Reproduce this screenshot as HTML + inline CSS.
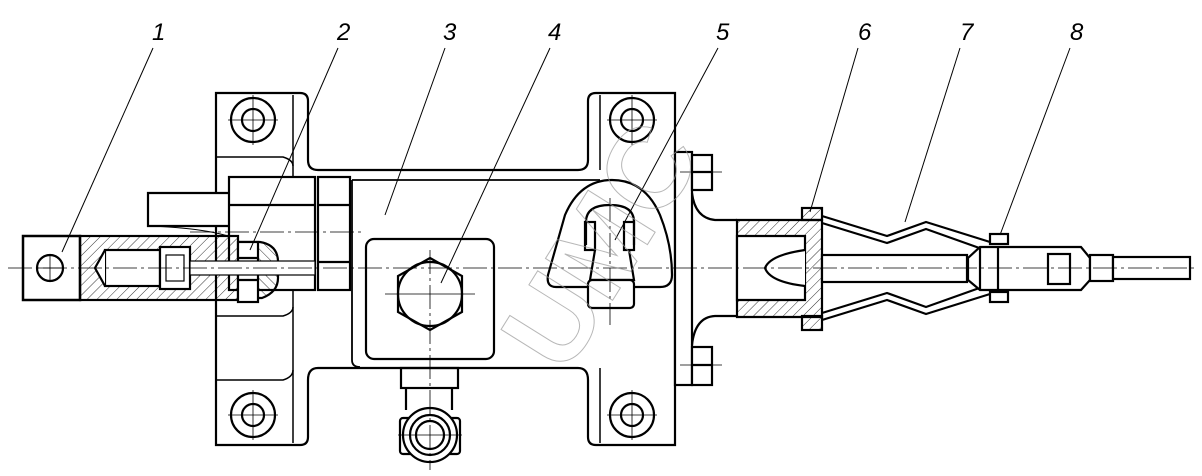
<!DOCTYPE html>
<html><head><style>body{margin:0;background:#fff}svg{display:block}</style></head><body>
<svg width="1202" height="476" viewBox="0 0 1202 476" xmlns="http://www.w3.org/2000/svg">
<defs>
<pattern id="h" width="7" height="7" patternUnits="userSpaceOnUse" patternTransform="rotate(45)"><line x1="0" y1="0" x2="0" y2="7" stroke="#000" stroke-width="0.8"/></pattern>
<pattern id="h2" width="7" height="7" patternUnits="userSpaceOnUse" patternTransform="rotate(-45)"><line x1="0" y1="0" x2="0" y2="7" stroke="#000" stroke-width="0.8"/></pattern>
</defs>
<g font-family="Liberation Sans, sans-serif" font-style="italic" font-size="24" fill="#000">
<text x="152" y="40">1</text><text x="337" y="40">2</text><text x="443" y="40">3</text><text x="548" y="40">4</text>
<text x="716" y="40">5</text><text x="858" y="40">6</text><text x="960" y="40">7</text><text x="1070" y="40">8</text>
</g>
<g stroke="#000" stroke-width="2.2" fill="none">
<path d="M216 93 H300 Q308 93 308 101 V160 Q308 170 318 170 H578 Q588 170 588 160 V101 Q588 93 596 93 H675 V445 H596 Q588 445 588 437 V380 Q588 368 578 368 H318 Q308 368 308 380 V437 Q308 445 300 445 H216 Z" fill="#fff"/>
<line x1="293" y1="95" x2="293" y2="443" stroke-width="1.5"/>
<line x1="600" y1="95" x2="600" y2="170" stroke-width="1.5"/>
<line x1="600" y1="368" x2="600" y2="443" stroke-width="1.5"/>
<path d="M216 157 H283 Q293 160 293 166" stroke-width="1.5"/>
<path d="M216 316 H283 Q293 313 293 307" stroke-width="1.5"/>
<path d="M216 380 H283 Q293 377 293 370" stroke-width="1.5"/>
<path d="M352 180 H600 M352 180 V360 Q352 367 360 367" stroke-width="1.8"/>
<circle cx="253" cy="120" r="22"/><circle cx="253" cy="120" r="11"/>
<circle cx="253" cy="415" r="22"/><circle cx="253" cy="415" r="11"/>
<circle cx="632" cy="120" r="22"/><circle cx="632" cy="120" r="11"/>
<circle cx="632" cy="415" r="22"/><circle cx="632" cy="415" r="11"/>
<path d="M229 193 H148 V226 H229" fill="#fff"/>
<path d="M148 226 Q210 228 240 240" stroke-width="1"/>
<rect x="229" y="177" width="86" height="113" fill="#fff"/>
<line x1="229" y1="205" x2="315" y2="205"/><line x1="229" y1="262" x2="315" y2="262"/>
<rect x="318" y="177" width="32" height="113" fill="#fff"/>
<line x1="318" y1="205" x2="350" y2="205"/><line x1="318" y1="262" x2="350" y2="262"/>
<rect x="23" y="236" width="57" height="64" fill="#fff" stroke-width="2.5"/>
<circle cx="50" cy="268" r="13"/>
<rect x="80" y="236" width="158" height="64" fill="url(#h)"/>
<path d="M238 242 H260 Q278 245 278 262 V278 Q278 292 262 298 H238" fill="url(#h2)"/>
<rect x="105" y="250" width="55" height="36" fill="#fff"/>
<path d="M105 250 L95 268 L105 286" fill="#fff"/>
<rect x="160" y="247" width="30" height="42" fill="#fff"/>
<rect x="166" y="255" width="18" height="26" stroke-width="1.2"/>
<rect x="238" y="242" width="20" height="60" fill="#fff"/>
<line x1="238" y1="258" x2="258" y2="258"/><line x1="238" y1="280" x2="258" y2="280"/>
<rect x="190" y="261" width="125" height="14" fill="#fff" stroke-width="1.2"/>
<rect x="366" y="239" width="128" height="120" rx="8" fill="#fff"/>
<polygon points="430,258 462,276 462,312 430,330 398,312 398,276" fill="#fff"/>
<circle cx="430" cy="294" r="32"/>
<rect x="401" y="368" width="57" height="20"/>
<path d="M406 388 V410 M452 388 V410"/>
<rect x="400" y="418" width="60" height="36" rx="3" fill="#fff"/>
<circle cx="430" cy="435" r="27" fill="#fff"/><circle cx="430" cy="435" r="20"/><circle cx="430" cy="435" r="14"/>
<path d="M556 287 Q546 287 548 275 L565 215 Q580 180 612 180 Q645 180 660 215 Q672 245 672 275 Q672 287 660 287 Z" fill="#fff"/>
<path d="M586 245 V222 Q586 205 610 205 Q634 205 634 222 V245" />
<rect x="585" y="222" width="10" height="28"/><rect x="624" y="222" width="10" height="28"/>
<path d="M595 250 L590 280 H634 L629 250"/>
<rect x="588" y="280" width="46" height="28" rx="4" fill="#fff"/>
<rect x="675" y="152" width="17" height="233" fill="#fff"/>
<rect x="692" y="155" width="20" height="35" fill="#fff"/><line x1="692" y1="172" x2="712" y2="172"/>
<rect x="692" y="347" width="20" height="38" fill="#fff"/><line x1="692" y1="365" x2="712" y2="365"/>
<path d="M692 193 Q695 218 715 220 H737 M692 345 Q695 317 715 316 H737"/>
<path d="M737 220 H822 V317 H737 Z" fill="url(#h)"/>
<path d="M737 236 H805 V300 H737 Z" fill="#fff"/>
<path d="M805 250 Q770 255 765 268 Q770 282 805 286" fill="#fff"/>
<rect x="802" y="208" width="20" height="12" fill="url(#h)"/><rect x="802" y="316" width="20" height="14" fill="url(#h)"/>
<path d="M822 216 L887 236 L926 222 L990 242 M822 223 L887 243 L926 229 L985 250" fill="none"/>
<path d="M822 320 L887 300 L926 314 L990 294 M822 313 L887 293 L926 307 L985 286" fill="none"/>
<rect x="822" y="255" width="145" height="27" fill="#fff"/>
<path d="M980 247 H1081 L1090 258 V280 L1081 290 H980 L968 280 V258 Z" fill="#fff"/>
<line x1="980" y1="247" x2="980" y2="290"/><line x1="998" y1="247" x2="998" y2="290"/>
<rect x="1048" y="254" width="22" height="30"/>
<rect x="990" y="234" width="18" height="10"/><rect x="990" y="292" width="18" height="10"/>
<rect x="1090" y="255" width="23" height="26" fill="#fff"/>
<rect x="1113" y="257" width="77" height="22" fill="#fff"/>
</g>
<g stroke="#000" stroke-width="0.8" stroke-dasharray="24,4,3,4" fill="none">
<line x1="8" y1="268" x2="1198" y2="268"/>
<line x1="430" y1="250" x2="430" y2="470"/>
<line x1="610" y1="198" x2="610" y2="325"/>
<line x1="190" y1="232" x2="365" y2="232"/>
</g>
<g stroke="#000" stroke-width="0.8" fill="none">
<path d="M228 120 H278 M253 95 V145 M228 415 H278 M253 390 V440 M607 120 H657 M632 95 V145 M607 415 H657 M632 390 V440 M36 268 H64 M50 254 V282 M385 294 H475 M398 435 H462 M680 172 H722 M680 365 H722"/>
</g>
<g stroke="#000" stroke-width="1" fill="none">
<line x1="153" y1="48" x2="62" y2="252"/><line x1="338" y1="48" x2="250" y2="250"/>
<line x1="445" y1="48" x2="385" y2="215"/><line x1="550" y1="48" x2="441" y2="283"/>
<line x1="718" y1="48" x2="615" y2="240"/><line x1="858" y1="48" x2="810" y2="212"/>
<line x1="960" y1="48" x2="905" y2="222"/><line x1="1070" y1="48" x2="1000" y2="235"/>
</g>
<g font-family="Liberation Sans, sans-serif" font-size="115" font-weight="bold" fill="none" stroke="#999" stroke-width="1" opacity="0.7">
<text x="600" y="285" text-anchor="middle" transform="rotate(-58 600 245)">UMC</text>
</g>
</svg>
</body></html>
